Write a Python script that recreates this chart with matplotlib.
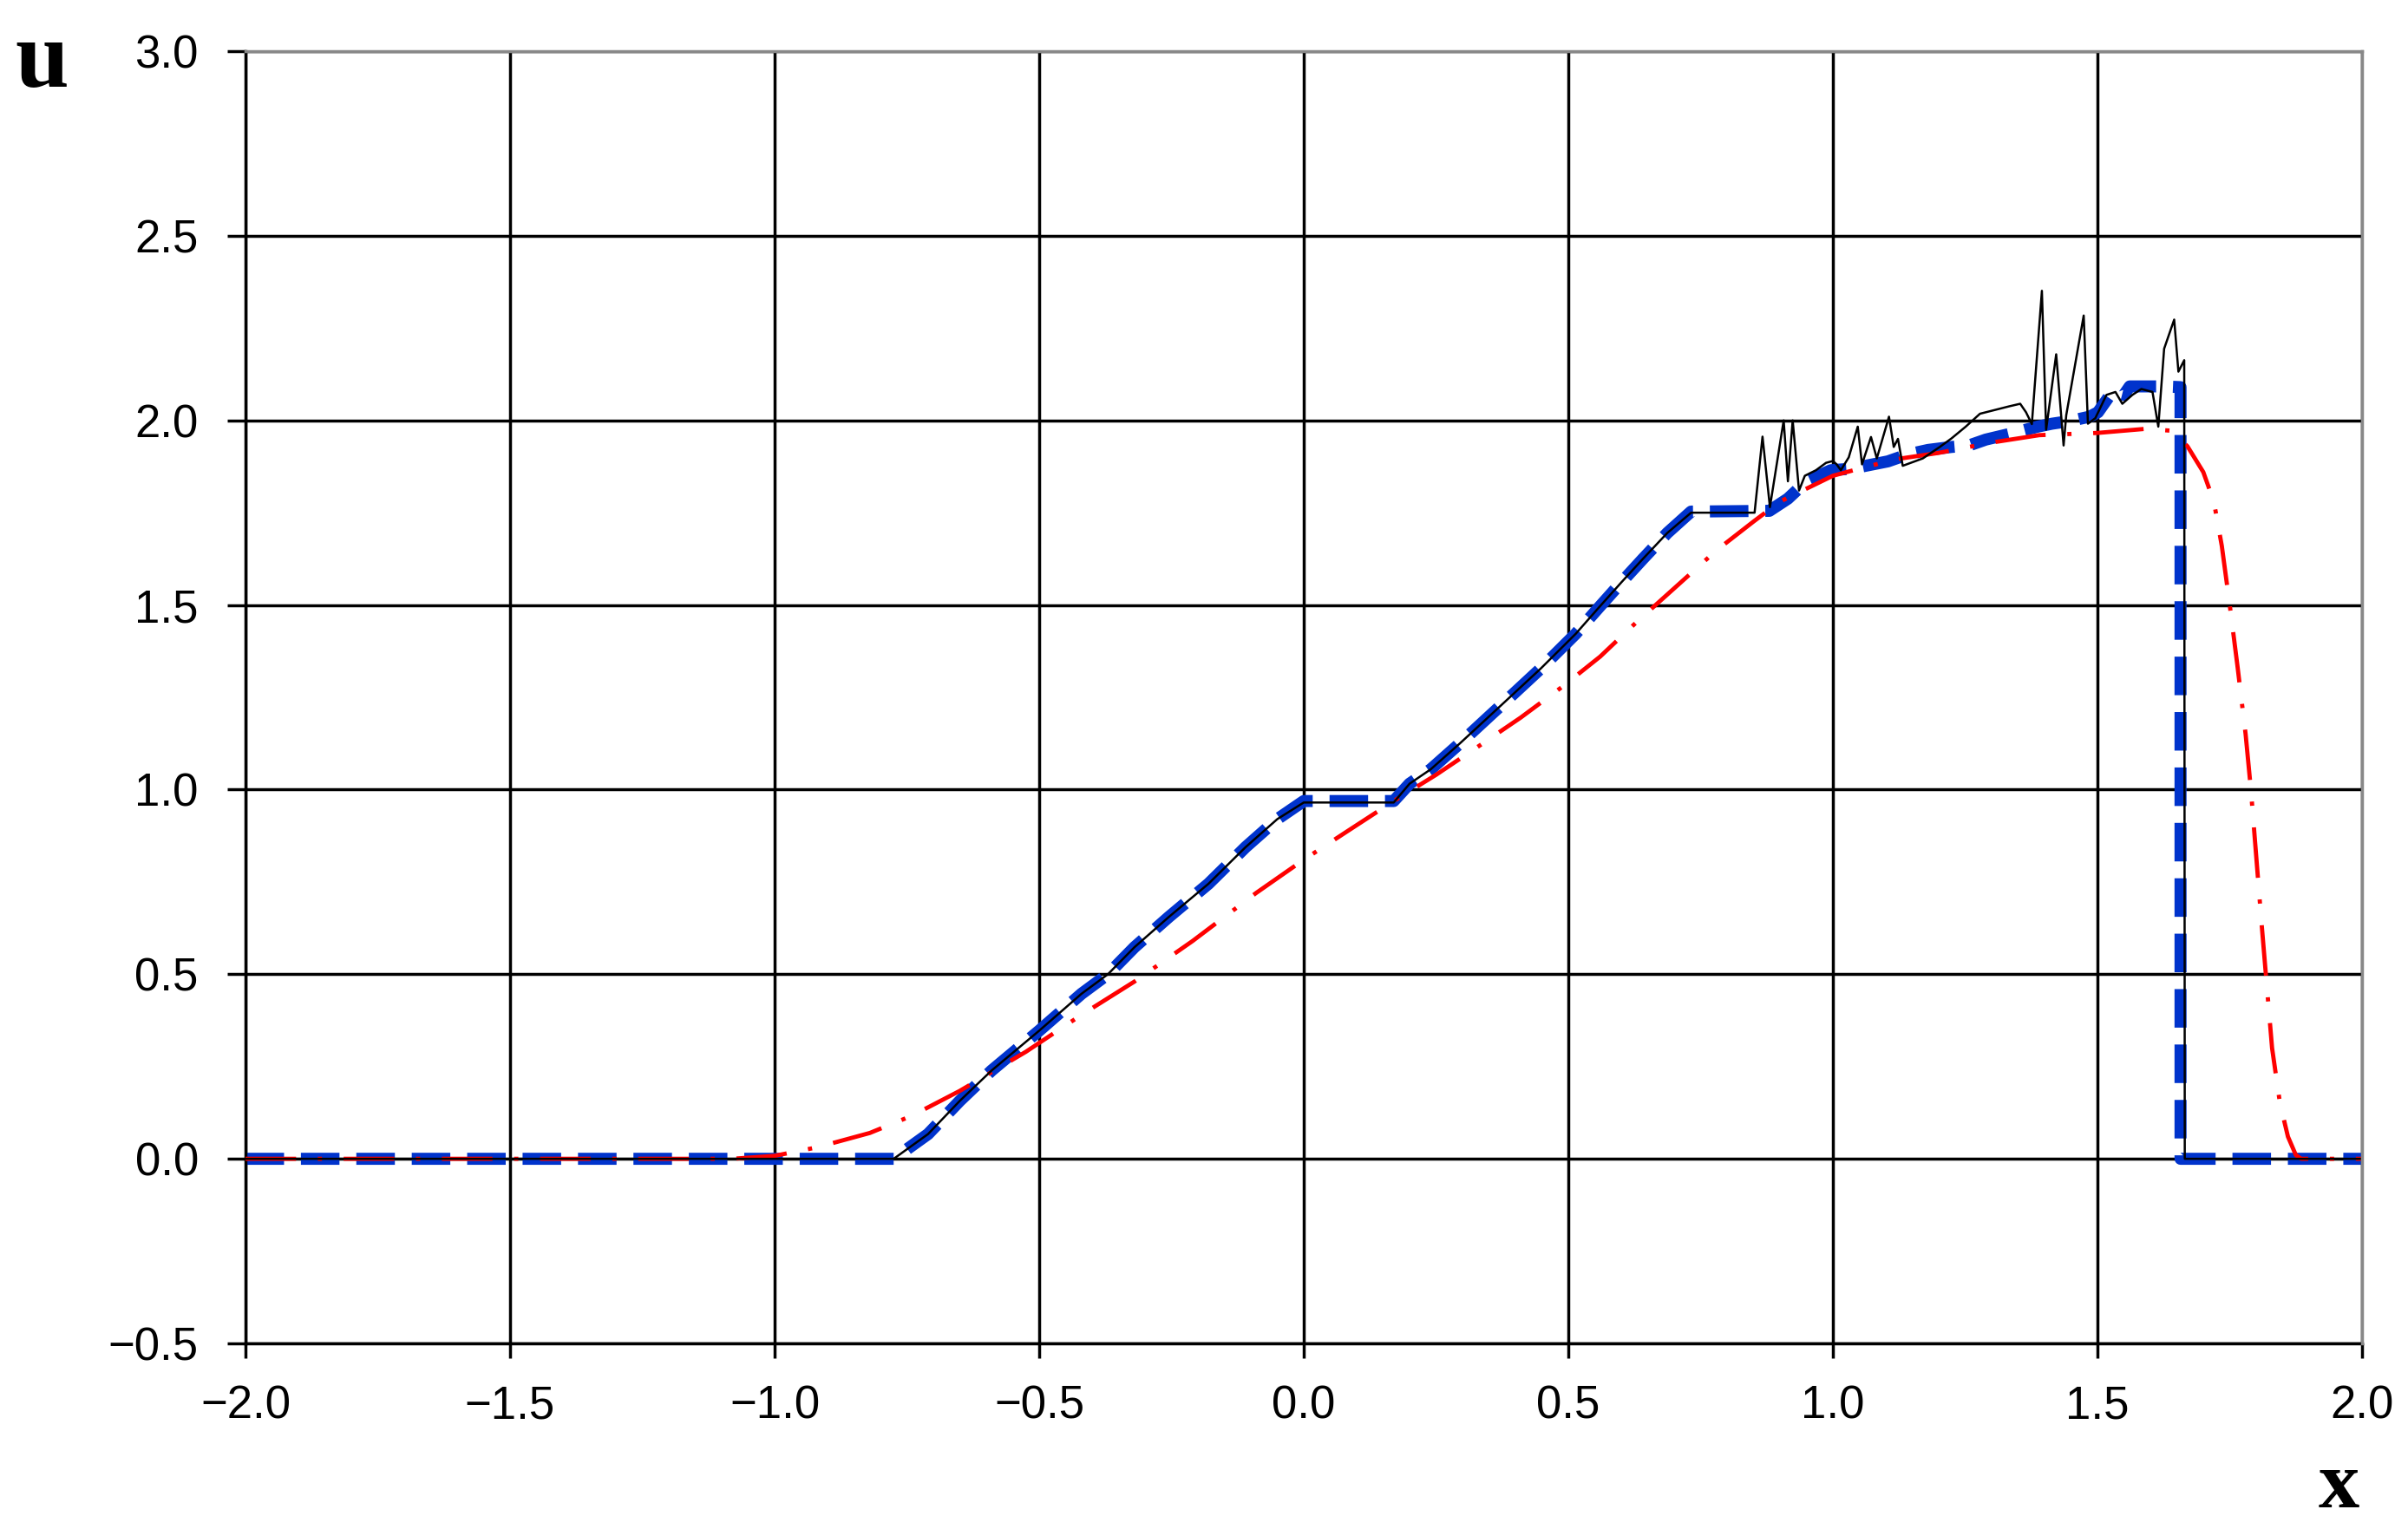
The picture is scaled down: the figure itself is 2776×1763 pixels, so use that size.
import numpy as np
import matplotlib
matplotlib.use("Agg")
import matplotlib.pyplot as plt
from matplotlib.ticker import FuncFormatter, MultipleLocator

plt.rcParams['lines.scale_dashes'] = False
plt.rcParams['font.family'] = ['Liberation Sans', 'DejaVu Sans']

# blue dashed curve
blue_x = [-2.0, -0.775, -0.71, -0.65, -0.59, -0.5, -0.42, -0.37, -0.32, -0.255,
          -0.18, -0.11, -0.05, 0.0, 0.17, 0.2, 0.24, 0.295, 0.366, 0.448,
          0.514, 0.557, 0.601, 0.641, 0.687, 0.732, 0.88, 0.915, 0.95, 0.996,
          1.034, 1.104, 1.142, 1.18, 1.224, 1.257, 1.289, 1.333, 1.387, 1.414,
          1.447, 1.485, 1.501, 1.528, 1.55, 1.561, 1.626, 1.657, 1.657, 2.0]
blue_y = [0.0, 0.0, 0.067, 0.157, 0.239, 0.347, 0.447, 0.5, 0.573, 0.655,
          0.745, 0.844, 0.92, 0.969, 0.969, 1.016, 1.055, 1.125, 1.219, 1.328,
          1.422, 1.492, 1.5625, 1.625, 1.695, 1.753, 1.755, 1.788, 1.835, 1.865,
          1.869, 1.889, 1.908, 1.92, 1.928, 1.932, 1.948, 1.963, 1.983, 1.991,
          1.998, 2.01, 2.022, 2.077, 2.069, 2.092, 2.092, 2.09, 0.0, 0.0]

# red dash-dot curve
red_x = [-2.0, -1.08, -1.0, -0.92, -0.82, -0.74, -0.65, -0.525, -0.42, -0.32,
         -0.21, -0.09, 0.0, 0.08, 0.17, 0.25, 0.33, 0.41, 0.49, 0.56,
         0.63, 0.7, 0.78, 0.85, 0.9, 1.0, 1.06, 1.12, 1.2, 1.3,
         1.39, 1.5, 1.59, 1.64, 1.67, 1.70, 1.72, 1.735, 1.75, 1.765,
         1.78, 1.79, 1.80, 1.81, 1.82, 1.83, 1.845, 1.86, 1.875, 1.885, 2.0]
red_y = [0.0, 0.0, 0.008, 0.031, 0.07, 0.117, 0.184, 0.29, 0.39, 0.48,
         0.59, 0.72, 0.81, 0.885, 0.969, 1.04, 1.117, 1.195, 1.28, 1.36,
         1.455, 1.545, 1.648, 1.726, 1.78, 1.85, 1.873, 1.895, 1.912, 1.94,
         1.96, 1.966, 1.977, 1.972, 1.93, 1.86, 1.78, 1.66, 1.5, 1.33,
         1.15, 1.0, 0.82, 0.64, 0.47, 0.3, 0.15, 0.06, 0.01, 0.0, 0.0]

# black thin curve (with oscillations)
black_x = [-2.0, -0.775, -0.71, -0.65, -0.59, -0.5, -0.42, -0.37, -0.32, -0.255,
           -0.18, -0.11, -0.05, 0.0, 0.17, 0.2, 0.24, 0.295, 0.366, 0.448,
           0.514, 0.557, 0.601, 0.641, 0.687, 0.732, 0.852, 0.867, 0.881, 0.907,
           0.915, 0.924, 0.936, 0.947, 0.968, 0.987, 1.0, 1.007, 1.015, 1.03,
           1.047, 1.055, 1.072, 1.083, 1.106, 1.115, 1.123, 1.132, 1.17, 1.202,
           1.224, 1.251, 1.278, 1.311, 1.333, 1.354, 1.365, 1.376, 1.395, 1.403,
           1.422, 1.436, 1.441, 1.474, 1.482, 1.496, 1.517, 1.534, 1.547, 1.566,
           1.583, 1.604, 1.615, 1.626, 1.645, 1.653, 1.664, 1.665, 2.0]
black_y = [0.0, 0.0, 0.067, 0.157, 0.239, 0.347, 0.447, 0.5, 0.573, 0.655,
           0.745, 0.844, 0.92, 0.965, 0.965, 1.016, 1.055, 1.125, 1.219, 1.328,
           1.422, 1.492, 1.5625, 1.625, 1.695, 1.75, 1.75, 1.956, 1.765, 2.0,
           1.835, 2.0, 1.81, 1.85, 1.865, 1.885, 1.89, 1.881, 1.865, 1.9,
           1.983, 1.881, 1.955, 1.897, 2.01, 1.928, 1.95, 1.877, 1.897, 1.928,
           1.951, 1.983, 2.018, 2.03, 2.038, 2.045, 2.022, 1.99, 2.351, 1.975,
           2.179, 1.932, 2.014, 2.284, 1.991, 2.006, 2.069, 2.077, 2.045, 2.069,
           2.085, 2.077, 1.983, 2.194, 2.273, 2.132, 2.163, 0.0, 0.0]

W, H = 2776, 1763
fig = plt.figure(figsize=(W / 100, H / 100), dpi=100)
ax = fig.add_axes([283 / W, 1 - 1549 / H, (2723 - 283) / W, (1549 - 59) / H])

ax.plot(blue_x, blue_y, color='#0033cc', lw=10, dashes=(32, 14),
        dash_capstyle='butt', solid_joinstyle='miter', zorder=2)
ax.plot(red_x, red_y, color='#ff0000', lw=3.5, dashes=(42, 18, 3.5, 18),
        dash_capstyle='butt', zorder=3)
ax.plot(black_x, black_y, color='black', lw=1.8, zorder=4)

ax.set_xlim(-2.0, 2.0)
ax.set_ylim(-0.5, 3.0)
ax.xaxis.set_major_locator(MultipleLocator(0.5))
ax.yaxis.set_major_locator(MultipleLocator(0.5))
fmt = FuncFormatter(lambda v, p: f"{v:.1f}".replace('-', '\u2212'))
ax.xaxis.set_major_formatter(fmt)
ax.yaxis.set_major_formatter(fmt)

ax.set_axisbelow(True)
ax.grid(True, color='black', lw=2.5)
for s in ['left', 'bottom']:
    ax.spines[s].set_color('black')
    ax.spines[s].set_linewidth(2.5)
for s in ['top', 'right']:
    ax.spines[s].set_color('#888888')
    ax.spines[s].set_linewidth(2.5)
    ax.spines[s].set_zorder(5)

ax.tick_params(axis='y', direction='out', length=15, width=2.5, pad=24,
               labelsize=38, colors='black')
ax.tick_params(axis='x', direction='out', length=12, width=2.5, pad=22,
               labelsize=38, colors='black')

fig.text(48 / W, 1 - 100 / H, 'u', ha='center', va='baseline', fontsize=80,
         fontweight='bold', family='Liberation Serif')
fig.text(2696 / W, 1 - 1738 / H, 'x', ha='center', va='baseline', fontsize=68,
         fontweight='bold', family='Liberation Serif')

fig.savefig('out.png', dpi=100)
